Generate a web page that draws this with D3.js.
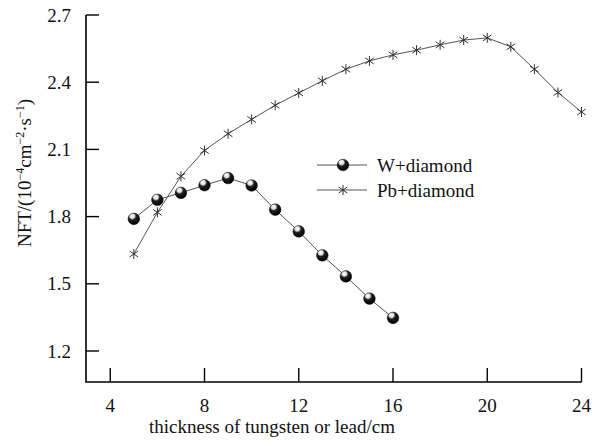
<!DOCTYPE html>
<html>
<head>
<meta charset="utf-8">
<script src="https://cdn.jsdelivr.net/npm/d3@7"></script>
<style>
  body { margin: 0; background: #fff; }
</style>
</head>
<body>
<script>
// thickness values (cm)
const wThick = [5, 6, 7, 8, 9, 10, 11, 12, 13, 14, 15, 16];
const wNFT = [1.79, 1.875, 1.906, 1.94, 1.972, 1.939, 1.831, 1.734, 1.627, 1.533, 1.434, 1.348];
const pbThick = [5, 6, 7, 8, 9, 10, 11, 12, 13, 14, 15, 16, 17, 18, 19, 20, 21, 22, 23, 24];
const pbNFT = [1.633, 1.819, 1.98, 2.095, 2.17, 2.234, 2.297, 2.352, 2.406, 2.458, 2.495, 2.522,
  2.543, 2.567, 2.588, 2.598, 2.558, 2.458, 2.354, 2.267];
const xTicks = [4, 8, 12, 16, 20, 24];
const yTicks = [1.2, 1.5, 1.8, 2.1, 2.4, 2.7];
const seriesNames = ["W+diamond", "Pb+diamond"];

const width = 594, height = 445;
const svg = d3.select("body").append("svg")
  .attr("width", width)
  .attr("height", height)
  .attr("font-family", "'Liberation Serif', 'DejaVu Serif', serif")
  .attr("fill", "#111");

const x = d3.scaleLinear().domain([2.97, 24]).range([86, 581.5]);
const y = d3.scaleLinear().domain([1.2, 2.7]).range([351, 15]);
const yBottom = 382;

// ball gradient for W markers
const defs = svg.append("defs");
const grad = defs.append("radialGradient").attr("id", "ball")
  .attr("cx", "40%").attr("cy", "30%").attr("r", "65%")
  .attr("fx", "35%").attr("fy", "25%");
grad.append("stop").attr("offset", "0%").attr("stop-color", "#fff");
grad.append("stop").attr("offset", "30%").attr("stop-color", "#ddd");
grad.append("stop").attr("offset", "50%").attr("stop-color", "#222");
grad.append("stop").attr("offset", "100%").attr("stop-color", "#000");

// axes (left and bottom only, ticks inward)
svg.append("path")
  .attr("d", `M86,${y(2.7)}V${yBottom}H${x(24)}`)
  .attr("fill", "none").attr("stroke", "#000").attr("stroke-width", 1.6);

svg.selectAll(".ytick").data(yTicks).join("line")
  .attr("x1", 86).attr("x2", 99)
  .attr("y1", d => y(d)).attr("y2", d => y(d))
  .attr("stroke", "#000").attr("stroke-width", 1.4);
svg.selectAll(".ylab").data(yTicks).join("text")
  .attr("x", 71).attr("y", d => y(d)).attr("dy", "0.35em")
  .attr("text-anchor", "end").attr("font-size", 19)
  .text(d => d.toFixed(1));

svg.selectAll(".xtick").data(xTicks).join("line")
  .attr("x1", d => x(d)).attr("x2", d => x(d))
  .attr("y1", yBottom).attr("y2", yBottom - 14)
  .attr("stroke", "#000").attr("stroke-width", 1.4);
svg.selectAll(".xlab").data(xTicks).join("text")
  .attr("x", d => x(d)).attr("y", 405).attr("dy", "0.35em")
  .attr("text-anchor", "middle").attr("font-size", 19)
  .text(d => d);

svg.append("text")
  .attr("x", 272).attr("y", 426).attr("dy", "0.35em")
  .attr("text-anchor", "middle").attr("font-size", 19)
  .text("thickness of tungsten or lead/cm");

// y title with superscripts
const yt = svg.append("text")
  .attr("transform", "translate(31,173) rotate(-90)")
  .attr("text-anchor", "middle").attr("font-size", 19);
yt.append("tspan").text("NFT/(10");
yt.append("tspan").attr("dy", -7).attr("font-size", 12).text("\u22124");
yt.append("tspan").attr("dy", 7).text("cm");
yt.append("tspan").attr("dy", -7).attr("font-size", 12).text("\u22122");
yt.append("tspan").attr("dy", 7).text("\u00b7s");
yt.append("tspan").attr("dy", -7).attr("font-size", 12).text("\u22121");
yt.append("tspan").attr("dy", 7).text(")");

const line = d3.line().x(d => x(d[0])).y(d => y(d[1]));
const wData = wThick.map((t, i) => [t, wNFT[i]]);
const pbData = pbThick.map((t, i) => [t, pbNFT[i]]);

svg.append("path").datum(pbData).attr("d", line)
  .attr("fill", "none").attr("stroke", "#555").attr("stroke-width", 1);
svg.append("path").datum(wData).attr("d", line)
  .attr("fill", "none").attr("stroke", "#555").attr("stroke-width", 1);

const star = "M0,-5V5M-4.3,-3L4.3,3M-4.3,3L4.3,-3";
function drawStar(g, cx, cy) {
  g.append("path").attr("d", star)
    .attr("transform", `translate(${cx},${cy})`)
    .attr("fill", "none").attr("stroke", "#333").attr("stroke-width", 1);
}
function drawBall(g, cx, cy) {
  g.append("circle").attr("cx", cx).attr("cy", cy).attr("r", 5.8)
    .attr("fill", "url(#ball)").attr("stroke", "#000").attr("stroke-width", 0.5);
}

const gp = svg.append("g");
pbData.forEach(d => drawStar(gp, x(d[0]), y(d[1])));
const gw = svg.append("g");
wData.forEach(d => drawBall(gw, x(d[0]), y(d[1])));

// legend
const lg = svg.append("g");
[165, 190].forEach((ly, i) => {
  lg.append("line").attr("x1", 317).attr("x2", 367).attr("y1", ly).attr("y2", ly)
    .attr("stroke", "#555").attr("stroke-width", 1);
  if (i === 0) drawBall(lg, 343, ly); else drawStar(lg, 343, ly);
  lg.append("text").attr("x", 377).attr("y", ly).attr("dy", "0.35em")
    .attr("font-size", 19).text(seriesNames[i]);
});
</script>
</body>
</html>
